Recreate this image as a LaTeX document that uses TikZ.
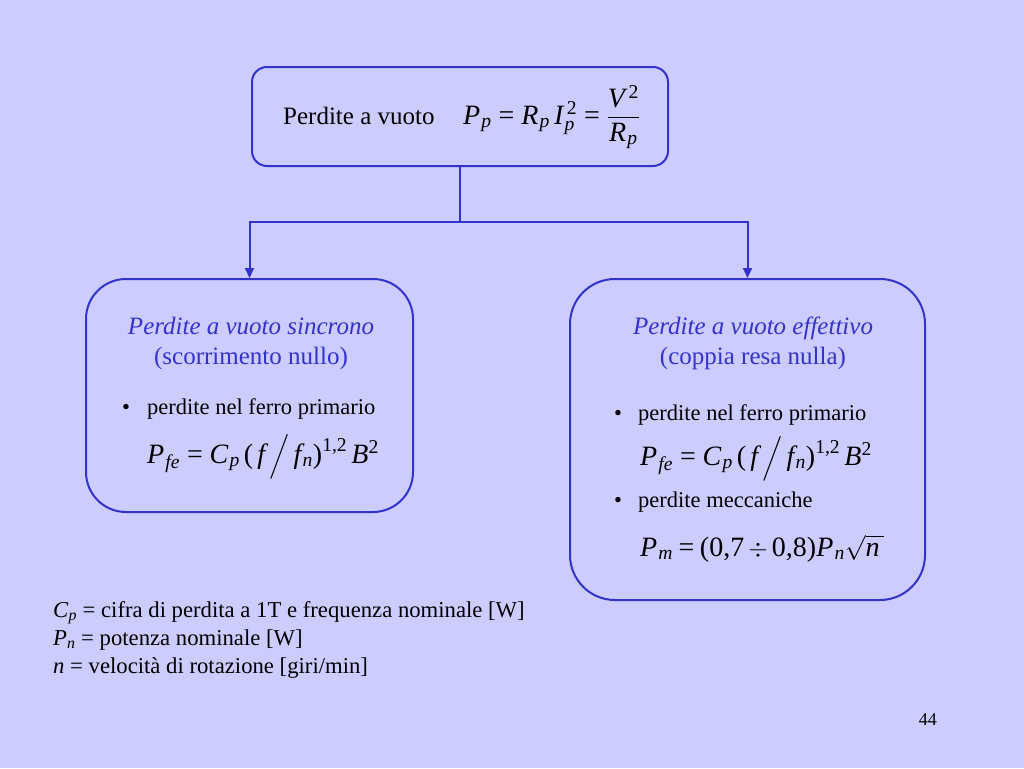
\documentclass[tikz,border=0pt]{standalone}
\usepackage{fontspec}
\setmainfont{Liberation Serif}
\usepackage{amsmath}
\usetikzlibrary{arrows.meta}
\definecolor{bgc}{RGB}{204,204,255}
\definecolor{bord}{RGB}{51,51,204}
\newcommand{\mI}[1]{\mathit{#1}}
\newcommand{\tR}[1]{\text{\normalfont #1}}
\newcommand{\msub}[1]{_{\mkern1mu\mathit{#1}}}
\begin{document}
\begin{tikzpicture}[x=1pt,y=-1pt,
  box/.style={draw=bord,line width=2pt,fill=bgc,inner sep=0pt},
  txt/.style={inner sep=0pt,anchor=base west,font=\fontsize{25}{30}\selectfont},
  btxt/.style={inner sep=0pt,anchor=base west,font=\fontsize{22.5}{27}\selectfont},
  ttl/.style={inner sep=0pt,anchor=base,text=bord,font=\fontsize{25}{30}\selectfont},
  frm/.style={inner sep=0pt,anchor=base west,font=\fontsize{28}{33}\selectfont},
  leg/.style={inner sep=0pt,anchor=base west,font=\fontsize{22.7}{27}\selectfont},
  conn/.style={draw=bord,line width=2pt},
  arr/.style={conn,-{Triangle[length=10pt,width=9pt]}}]
\fill[bgc] (0,0) rectangle (1024,768);
\useasboundingbox (0,0) rectangle (1024,768);
% boxes
\node[box,rounded corners=15pt,minimum width=416pt,minimum height=99pt] (top) at (460,116.5) {};
\node[box,rounded corners=40pt,minimum width=327pt,minimum height=233pt] (left) at (249.5,395.5) {};
\node[box,rounded corners=45pt,minimum width=355pt,minimum height=321pt] (right) at (747.5,439.5) {};
% connectors
\coordinate (split) at (460,222);
\draw[conn] (top.south) -- (split);
\draw[arr] (split) -| (left.north);
\draw[arr] (split) -| (right.north);
% top box
\node[txt] (tl) at (283,124) {Perdite a vuoto};
\node[frm] (tf) at (463,124) {$\mI{P}\msub{p}\;\tR{=}\;\mI{R}\msub{p}\,\mI{I}\msub{p}^{\,\tR{2}}\;\tR{=}\;\dfrac{\mI{V}^{\,\tR{2}}}{\mI{R}\msub{p}}$};
% left box
\node[ttl] (lt1) at (251,334) {\itshape Perdite a vuoto sincrono};
\node[ttl] (lt2) at (251,364) {(scorrimento nullo)};
\node[btxt] (lb1) at (122,414) {\textbullet};
\node[btxt] (lb1t) at (147,414) {perdite nel ferro primario};
\node[frm] (lf1) at (147,463) {$\mI{P}\msub{fe}\;\tR{=}\;\mI{C}\msub{p}\,\tR{(}\,\mI{f}\,\Big/\,\mI{f}\msub{n}\tR{)}^{\tR{1,2}}\,\mI{B}^{\tR{2}}$};
% right box
\node[ttl] (rt1) at (753,334) {\itshape Perdite a vuoto effettivo};
\node[ttl] (rt2) at (753,364) {(coppia resa nulla)};
\node[btxt] (rb1) at (614,420) {\textbullet};
\node[btxt] (rb1t) at (638,420) {perdite nel ferro primario};
\node[frm] (rf1) at (640,465) {$\mI{P}\msub{fe}\;\tR{=}\;\mI{C}\msub{p}\,\tR{(}\,\mI{f}\,\Big/\,\mI{f}\msub{n}\tR{)}^{\tR{1,2}}\,\mI{B}^{\tR{2}}$};
\node[btxt] (rb2) at (614,507) {\textbullet};
\node[btxt] (rb2t) at (638,507) {perdite meccaniche};
\node[frm] (rf2) at (640,556) {$\mI{P}\msub{m}\:\tR{=}\:\tR{(0,7}\,{\div}\,\tR{0,8)}\mI{P}\msub{n}\sqrt{\mI{n}\,}$};
% legend
\node[leg] (g1) at (53,617) {\textit{C}\textsubscript{\textit{p}} = cifra di perdita a 1T e frequenza nominale [W]};
\node[leg] (g2) at (53,645) {\textit{P}\textsubscript{\textit{n}} = potenza nominale [W]};
\node[leg] (g3) at (53,673) {\textit{n} = velocità di rotazione [giri/min]};
% page number
\node[inner sep=0pt,anchor=base east,font=\fontsize{18}{22}\selectfont] (pg) at (937,725) {44};
\end{tikzpicture}
\end{document}
